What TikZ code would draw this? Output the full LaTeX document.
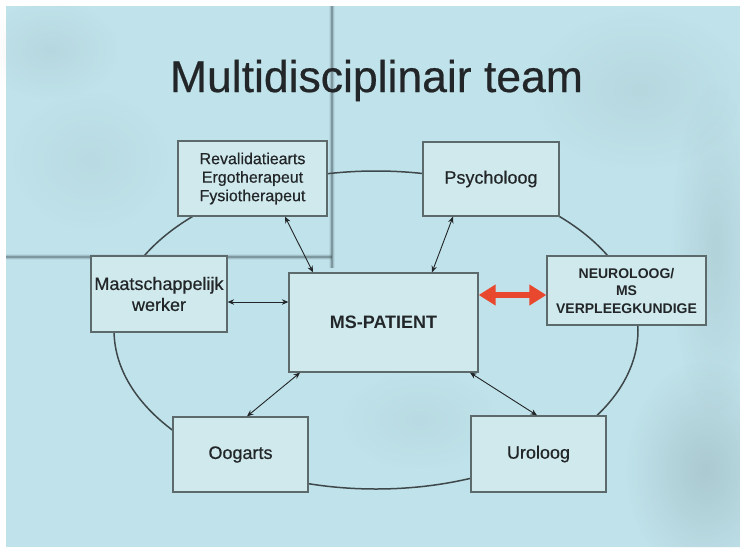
\documentclass[tikz,border=0pt]{standalone}
\usepackage{fontspec}
\setmainfont{Liberation Sans}
\newfontfamily\heavyfont{Liberation Sans}[FakeBold=0.5]
\usetikzlibrary{arrows.meta,fadings}

\definecolor{wallblue}{RGB}{192,226,234}
\definecolor{boxfill}{RGB}{207,233,237}
\definecolor{boxline}{RGB}{92,106,108}
\definecolor{inkgray}{RGB}{34,38,40}
\definecolor{ringgray}{RGB}{62,72,74}
\definecolor{linkred}{RGB}{232,72,46}
\definecolor{seam}{RGB}{60,75,80}

\tikzfading[name=softspot, inner color=transparent!0, outer color=transparent!100]

\tikzset{
  member/.style={draw=boxline, fill=boxfill, line width=1.3pt, inner sep=0pt,
    align=center, text=inkgray, font=\heavyfont\fontsize{18}{21}\selectfont},
  link/.style={draw=inkgray, line width=0.9pt,
    {Stealth[length=6.5pt,width=5.5pt]}-{Stealth[length=6.5pt,width=5.5pt]}},
  keylink/.style={draw=linkred, line width=5.5pt,
    {Triangle[length=17pt,width=20pt]}-{Triangle[length=17pt,width=20pt]}},
  blotch/.style={fill=seam, path fading=softspot}
}

\begin{document}
\begin{tikzpicture}[x=1pt,y=-1pt]
  % wall background with a white margin along the top and left
  \path[use as bounding box] (0,0) rectangle (740,547);
  \fill[wallblue] (0,0) rectangle (740,547);
  \fill[white] (0,0) rectangle (740,6);
  \fill[white] (0,0) rectangle (6,547);

  % wall texture: panel seams and faint stains
  \foreach \w/\o in {6/0.07, 4/0.16, 2.2/0.35}{
    \draw[seam, line width=\w pt, opacity=\o] (332,6) -- (332,268);
    \draw[seam, line width=\w pt, opacity=\o] (6,257) -- (332,257);
  }
  \fill[blotch, opacity=0.16] (705,470) ellipse [x radius=80, y radius=110];
  \fill[blotch, opacity=0.10] (715,250) ellipse [x radius=45, y radius=170];
  \fill[blotch, opacity=0.07] (640,90) ellipse [x radius=110, y radius=80];
  \fill[blotch, opacity=0.07] (50,50) ellipse [x radius=70, y radius=50];
  \fill[blotch, opacity=0.05] (90,160) ellipse [x radius=80, y radius=70];
  \fill[blotch, opacity=0.05] (420,420) ellipse [x radius=80, y radius=50];

  % title
  \node[anchor=base, text=inkgray, font=\heavyfont\fontsize{44.5}{50}\selectfont]
    (title) at (376.5,92) {Multidisciplinair team};

  % ring joining the team members
  \draw[ringgray, line width=1.5pt] (376,330) ellipse [x radius=262, y radius=159];

  % team members
  \node[member, minimum width=149pt, minimum height=75pt,
        font=\heavyfont\fontsize{16}{18.5}\selectfont]
    (rev) at (252.5,178.5) {Revalidatiearts\\Ergotherapeut\\Fysiotherapeut};
  \node[member, minimum width=136pt, minimum height=74pt]
    (psy) at (491,179) {Psycholoog};
  \node[member, minimum width=136pt, minimum height=76pt]
    (maat) at (159,294) {Maatschappelijk\\werker};
  \node[member, minimum width=189pt, minimum height=99pt,
        font=\bfseries\fontsize{18}{21}\selectfont]
    (ms) at (383.5,322.5) {MS-PATIENT};
  \node[member, minimum width=159pt, minimum height=69pt,
        font=\bfseries\fontsize{14}{17.5}\selectfont]
    (neu) at (626.5,290.5) {NEUROLOOG/\\MS\\VERPLEEGKUNDIGE};
  \node[member, minimum width=135pt, minimum height=75pt]
    (oog) at (240.5,454.5) {Oogarts};
  \node[member, minimum width=135pt, minimum height=76pt]
    (uro) at (538.5,454) {Uroloog};

  % links to the patient
  \draw[link] ([xshift=32.5pt]rev.south) -- ([xshift=-70.5pt]ms.north);
  \draw[link] ([xshift=-38pt]psy.south) -- ([xshift=48.5pt]ms.north);
  \draw[link] ([yshift=-8pt]maat.east) -- ([yshift=20.5pt]ms.west);
  \draw[link] ([xshift=-83.5pt]ms.south) -- ([xshift=6.5pt]oog.north);
  \draw[link] ([xshift=86.5pt]ms.south) -- ([xshift=-1.5pt]uro.north);
  \draw[keylink] ([yshift=27.5pt]ms.east) -- ([yshift=-4.5pt]neu.west);
\end{tikzpicture}
\end{document}
